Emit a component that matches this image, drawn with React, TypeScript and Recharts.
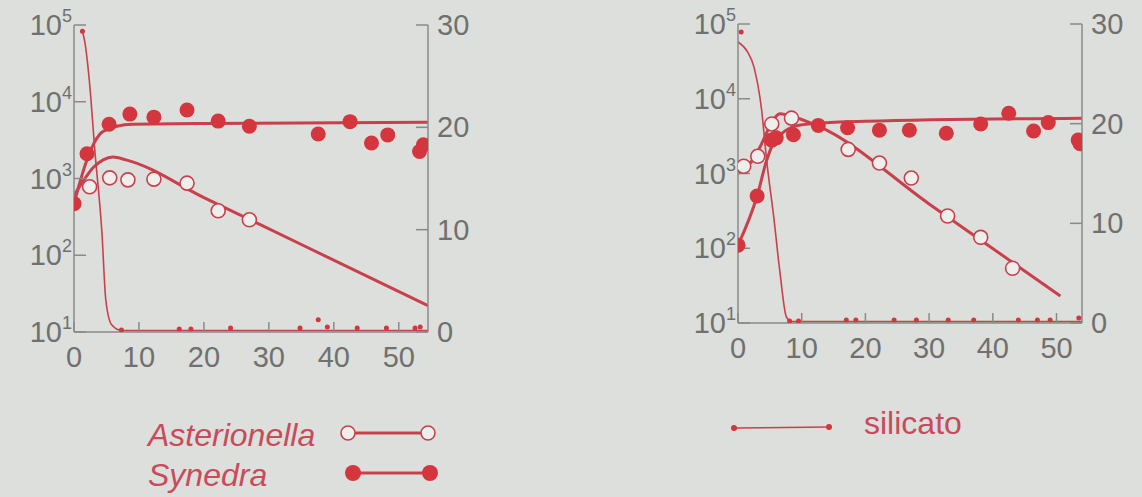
import { ComposedChart, Line, Scatter, XAxis, YAxis } from 'recharts'

// days / cells per ml (log axis) / silicate (right axis)
const leftAstPts = [
  { x: 2.4, y: 780 }, { x: 5.5, y: 1020 }, { x: 8.3, y: 960 }, { x: 12.3, y: 980 },
  { x: 17.4, y: 870 }, { x: 22.2, y: 380 }, { x: 27, y: 290 },
]
const leftAstFit = [
  { x: 0, y: 600 }, { x: 1.5, y: 950 }, { x: 3, y: 1400 }, { x: 4.5, y: 1750 },
  { x: 6, y: 1900 }, { x: 8, y: 1750 }, { x: 20, y: 565 }, { x: 35, y: 138 }, { x: 54.5, y: 22 },
]
const leftSynPts = [
  { x: 0, y: 470 }, { x: 2, y: 2100 }, { x: 5.4, y: 5100 }, { x: 8.6, y: 6900 },
  { x: 12.3, y: 6300 }, { x: 17.4, y: 7800 }, { x: 22.2, y: 5600 }, { x: 27, y: 4800 },
  { x: 37.6, y: 3800 }, { x: 42.5, y: 5500 }, { x: 45.8, y: 2900 }, { x: 48.3, y: 3700 },
  { x: 53.2, y: 2250 }, { x: 53.8, y: 2750 },
]
const leftSynFit = [
  { x: 0, y: 470 }, { x: 1, y: 950 }, { x: 2, y: 1750 }, { x: 3, y: 2800 }, { x: 4, y: 3800 },
  { x: 5.2, y: 4400 }, { x: 6.6, y: 4800 }, { x: 9, y: 5100 }, { x: 20, y: 5200 }, { x: 54.5, y: 5400 },
]
const leftSiPts = [
  { x: 1.3, y: 29.4 }, { x: 7.3, y: 0.2 }, { x: 16.2, y: 0.3 }, { x: 18, y: 0.3 },
  { x: 24.1, y: 0.4 }, { x: 34.8, y: 0.4 }, { x: 37.6, y: 1.2 }, { x: 39, y: 0.5 },
  { x: 43.6, y: 0.4 }, { x: 48.1, y: 0.4 }, { x: 52.5, y: 0.4 }, { x: 53.3, y: 0.5 },
]
const leftSiFit = [
  { x: 1.3, y: 29.4 }, { x: 1.7, y: 28.2 }, { x: 2.4, y: 24.3 }, { x: 3.2, y: 17.8 },
  { x: 4.3, y: 9.7 }, { x: 4.9, y: 3.1 }, { x: 5.8, y: 0.7 }, { x: 7.3, y: 0.15 }, { x: 54.5, y: 0.15 },
]

const rightAstPts = [
  { x: 0.9, y: 1250 }, { x: 3.1, y: 1700 }, { x: 5.3, y: 4600 }, { x: 8.4, y: 5500 },
  { x: 17.3, y: 2100 }, { x: 22.2, y: 1380 }, { x: 27.2, y: 870 }, { x: 32.9, y: 270 },
  { x: 38.1, y: 140 }, { x: 43.1, y: 54 },
]
const rightAstFit = [
  { x: 0, y: 1000 }, { x: 2, y: 1400 }, { x: 3.5, y: 2300 }, { x: 5, y: 4300 },
  { x: 6.6, y: 6300 }, { x: 8.5, y: 5800 }, { x: 12.6, y: 4300 }, { x: 30, y: 392 },
  { x: 50.6, y: 23 },
]
const rightSynPts = [
  { x: 0, y: 110 }, { x: 3, y: 500 }, { x: 5.3, y: 2800 }, { x: 6, y: 3000 },
  { x: 8.7, y: 3300 }, { x: 12.6, y: 4400 }, { x: 17.2, y: 4100 }, { x: 22.2, y: 3800 },
  { x: 26.9, y: 3800 }, { x: 32.7, y: 3450 }, { x: 38.1, y: 4600 }, { x: 42.5, y: 6400 },
  { x: 46.4, y: 3700 }, { x: 48.7, y: 4800 }, { x: 53.4, y: 2800 }, { x: 53.7, y: 2500 },
]
const rightSynFit = [
  { x: 0, y: 110 }, { x: 3, y: 500 }, { x: 4.5, y: 1500 }, { x: 5.5, y: 2500 },
  { x: 7, y: 3500 }, { x: 9, y: 4300 }, { x: 12.6, y: 4700 }, { x: 20, y: 5000 }, { x: 54, y: 5500 },
]
const rightSiPts = [
  { x: 0.5, y: 29.2 }, { x: 8.1, y: 0.2 }, { x: 9.5, y: 0.2 }, { x: 17, y: 0.3 },
  { x: 18.5, y: 0.3 }, { x: 24.5, y: 0.3 }, { x: 28, y: 0.3 }, { x: 33, y: 0.3 },
  { x: 37, y: 0.3 }, { x: 44, y: 0.3 }, { x: 47, y: 0.3 }, { x: 49, y: 0.3 }, { x: 53.5, y: 0.5 },
]
const rightSiFit = [
  { x: 0, y: 28.2 }, { x: 1.5, y: 27.2 }, { x: 2.5, y: 25.7 }, { x: 3.7, y: 21.4 },
  { x: 4.5, y: 16.3 }, { x: 5.6, y: 10.7 }, { x: 6.6, y: 5 }, { x: 7.6, y: 0.6 },
  { x: 8.4, y: 0.15 }, { x: 54, y: 0.15 },
]

const dayTicks = [0, 10, 20, 30, 40, 50]
const cellTicks = [10, 100, 1000, 10000, 100000]
const siTicks = [0, 10, 20, 30]

const BG = '#dcdfdb'
const AXIS = '#8a8a8a'
const TICK = '#707070'
const LINE = '#c9404c'
const DOT = '#d5353d'
const TEXT = '#c94b5b'
const FONT = '"Liberation Sans", Arial, sans-serif'

const LogTick = ({ x, y, payload }: any) => (
  <text x={x} y={y} textAnchor="end" fill={TICK} fontSize={29} fontFamily={FONT}>
    <tspan dy={10}>10</tspan>
    <tspan dy={-13} fontSize={18}>{Math.round(Math.log10(payload.value))}</tspan>
  </text>
)
const DayTick = ({ x, y, payload }: any) => (
  <text x={x} y={y} dy={27} textAnchor="middle" fill={TICK} fontSize={29} fontFamily={FONT}>
    {payload.value}
  </text>
)
const SiTick = ({ x, y, payload }: any) => (
  <text x={x} y={y} dy={10} textAnchor="start" fill={TICK} fontSize={29} fontFamily={FONT}>
    {payload.value}
  </text>
)

const filledDot = (p: any) => <circle cx={p.cx} cy={p.cy} r={7.5} fill={DOT} />
const openDot = (p: any) => (
  <circle cx={p.cx} cy={p.cy} r={7} fill="#eeeeec" stroke={LINE} strokeWidth={1.6} />
)
const smallDot = (p: any) => <circle cx={p.cx} cy={p.cy} r={2.5} fill={DOT} />

interface PanelProps {
  left: number
  xMax: number
  margin: { top: number; right: number; bottom: number; left: number }
  ast: any[]
  astFit: any[]
  syn: any[]
  synFit: any[]
  si: any[]
  siFit: any[]
}

const Panel = ({ left, xMax, margin, ast, astFit, syn, synFit, si, siFit }: PanelProps) => (
  <div style={{ position: 'absolute', left, top: 0 }}>
    <ComposedChart width={482} height={400} margin={margin}>
      <XAxis
        dataKey="x"
        type="number"
        domain={[0, xMax]}
        ticks={dayTicks}
        allowDataOverflow
        height={40}
        stroke={AXIS}
        strokeWidth={1.5}
        tickSize={-10}
        tickMargin={18}
        tick={<DayTick />}
      />
      <YAxis
        yAxisId="cells"
        dataKey="y"
        type="number"
        scale="log"
        domain={[10, 100000]}
        ticks={cellTicks}
        allowDataOverflow
        width={60}
        stroke={AXIS}
        strokeWidth={1.5}
        tickSize={-12}
        tickMargin={14}
        tick={<LogTick />}
      />
      <YAxis
        yAxisId="si"
        orientation="right"
        dataKey="y"
        type="number"
        domain={[0, 30]}
        ticks={siTicks}
        allowDataOverflow
        width={50}
        stroke={AXIS}
        strokeWidth={1.5}
        tickSize={-12}
        tickMargin={21}
        tick={<SiTick />}
      />
      <Line yAxisId="si" data={siFit} dataKey="y" type="monotone" stroke={LINE} strokeWidth={1.6} dot={false} isAnimationActive={false} />
      <Line yAxisId="cells" data={synFit} dataKey="y" type="monotone" stroke={LINE} strokeWidth={3} dot={false} isAnimationActive={false} />
      <Line yAxisId="cells" data={astFit} dataKey="y" type="monotone" stroke={LINE} strokeWidth={3} dot={false} isAnimationActive={false} />
      <Scatter yAxisId="si" data={si} dataKey="y" shape={smallDot} isAnimationActive={false} />
      <Scatter yAxisId="cells" data={syn} dataKey="y" shape={filledDot} isAnimationActive={false} />
      <Scatter yAxisId="cells" data={ast} dataKey="y" shape={openDot} isAnimationActive={false} />
    </ComposedChart>
  </div>
)

const legendText = { position: 'absolute' as const, fontFamily: FONT, fontSize: 32, color: TEXT, lineHeight: '34px' }

const App = () => (
  <div style={{ position: 'absolute', left: 0, top: 0, width: 1142, height: 497, background: BG, overflow: 'hidden' }}>
    <Panel left={0} xMax={54.5} margin={{ top: 25, right: 4, bottom: 28, left: 14 }}
      ast={leftAstPts} astFit={leftAstFit} syn={leftSynPts} synFit={leftSynFit} si={leftSiPts} siFit={leftSiFit} />
    <Panel left={660} xMax={54} margin={{ top: 24, right: 10, bottom: 37, left: 18 }}
      ast={rightAstPts} astFit={rightAstFit} syn={rightSynPts} synFit={rightSynFit} si={rightSiPts} siFit={rightSiFit} />
    <div style={{ ...legendText, left: 148, top: 418, fontStyle: 'italic' }}>Asterionella</div>
    <div style={{ ...legendText, left: 148, top: 458, fontStyle: 'italic' }}>Synedra</div>
    <div style={{ ...legendText, left: 864, top: 406 }}>silicato</div>
    <svg style={{ position: 'absolute', left: 0, top: 400 }} width={1142} height={97}>
      <line x1={348} y1={33} x2={428} y2={33} stroke={LINE} strokeWidth={3} />
      <circle cx={348} cy={33} r={7} fill="#eeeeec" stroke={LINE} strokeWidth={1.6} />
      <circle cx={428} cy={33} r={7} fill="#eeeeec" stroke={LINE} strokeWidth={1.6} />
      <line x1={353} y1={73} x2={430} y2={73} stroke={LINE} strokeWidth={3} />
      <circle cx={353} cy={73} r={8} fill={DOT} />
      <circle cx={430} cy={73} r={8} fill={DOT} />
      <line x1={734} y1={28} x2={829} y2={27} stroke={LINE} strokeWidth={1.6} />
      <circle cx={734} cy={28} r={3} fill={DOT} />
      <circle cx={829} cy={27} r={3} fill={DOT} />
    </svg>
  </div>
)

export default App
